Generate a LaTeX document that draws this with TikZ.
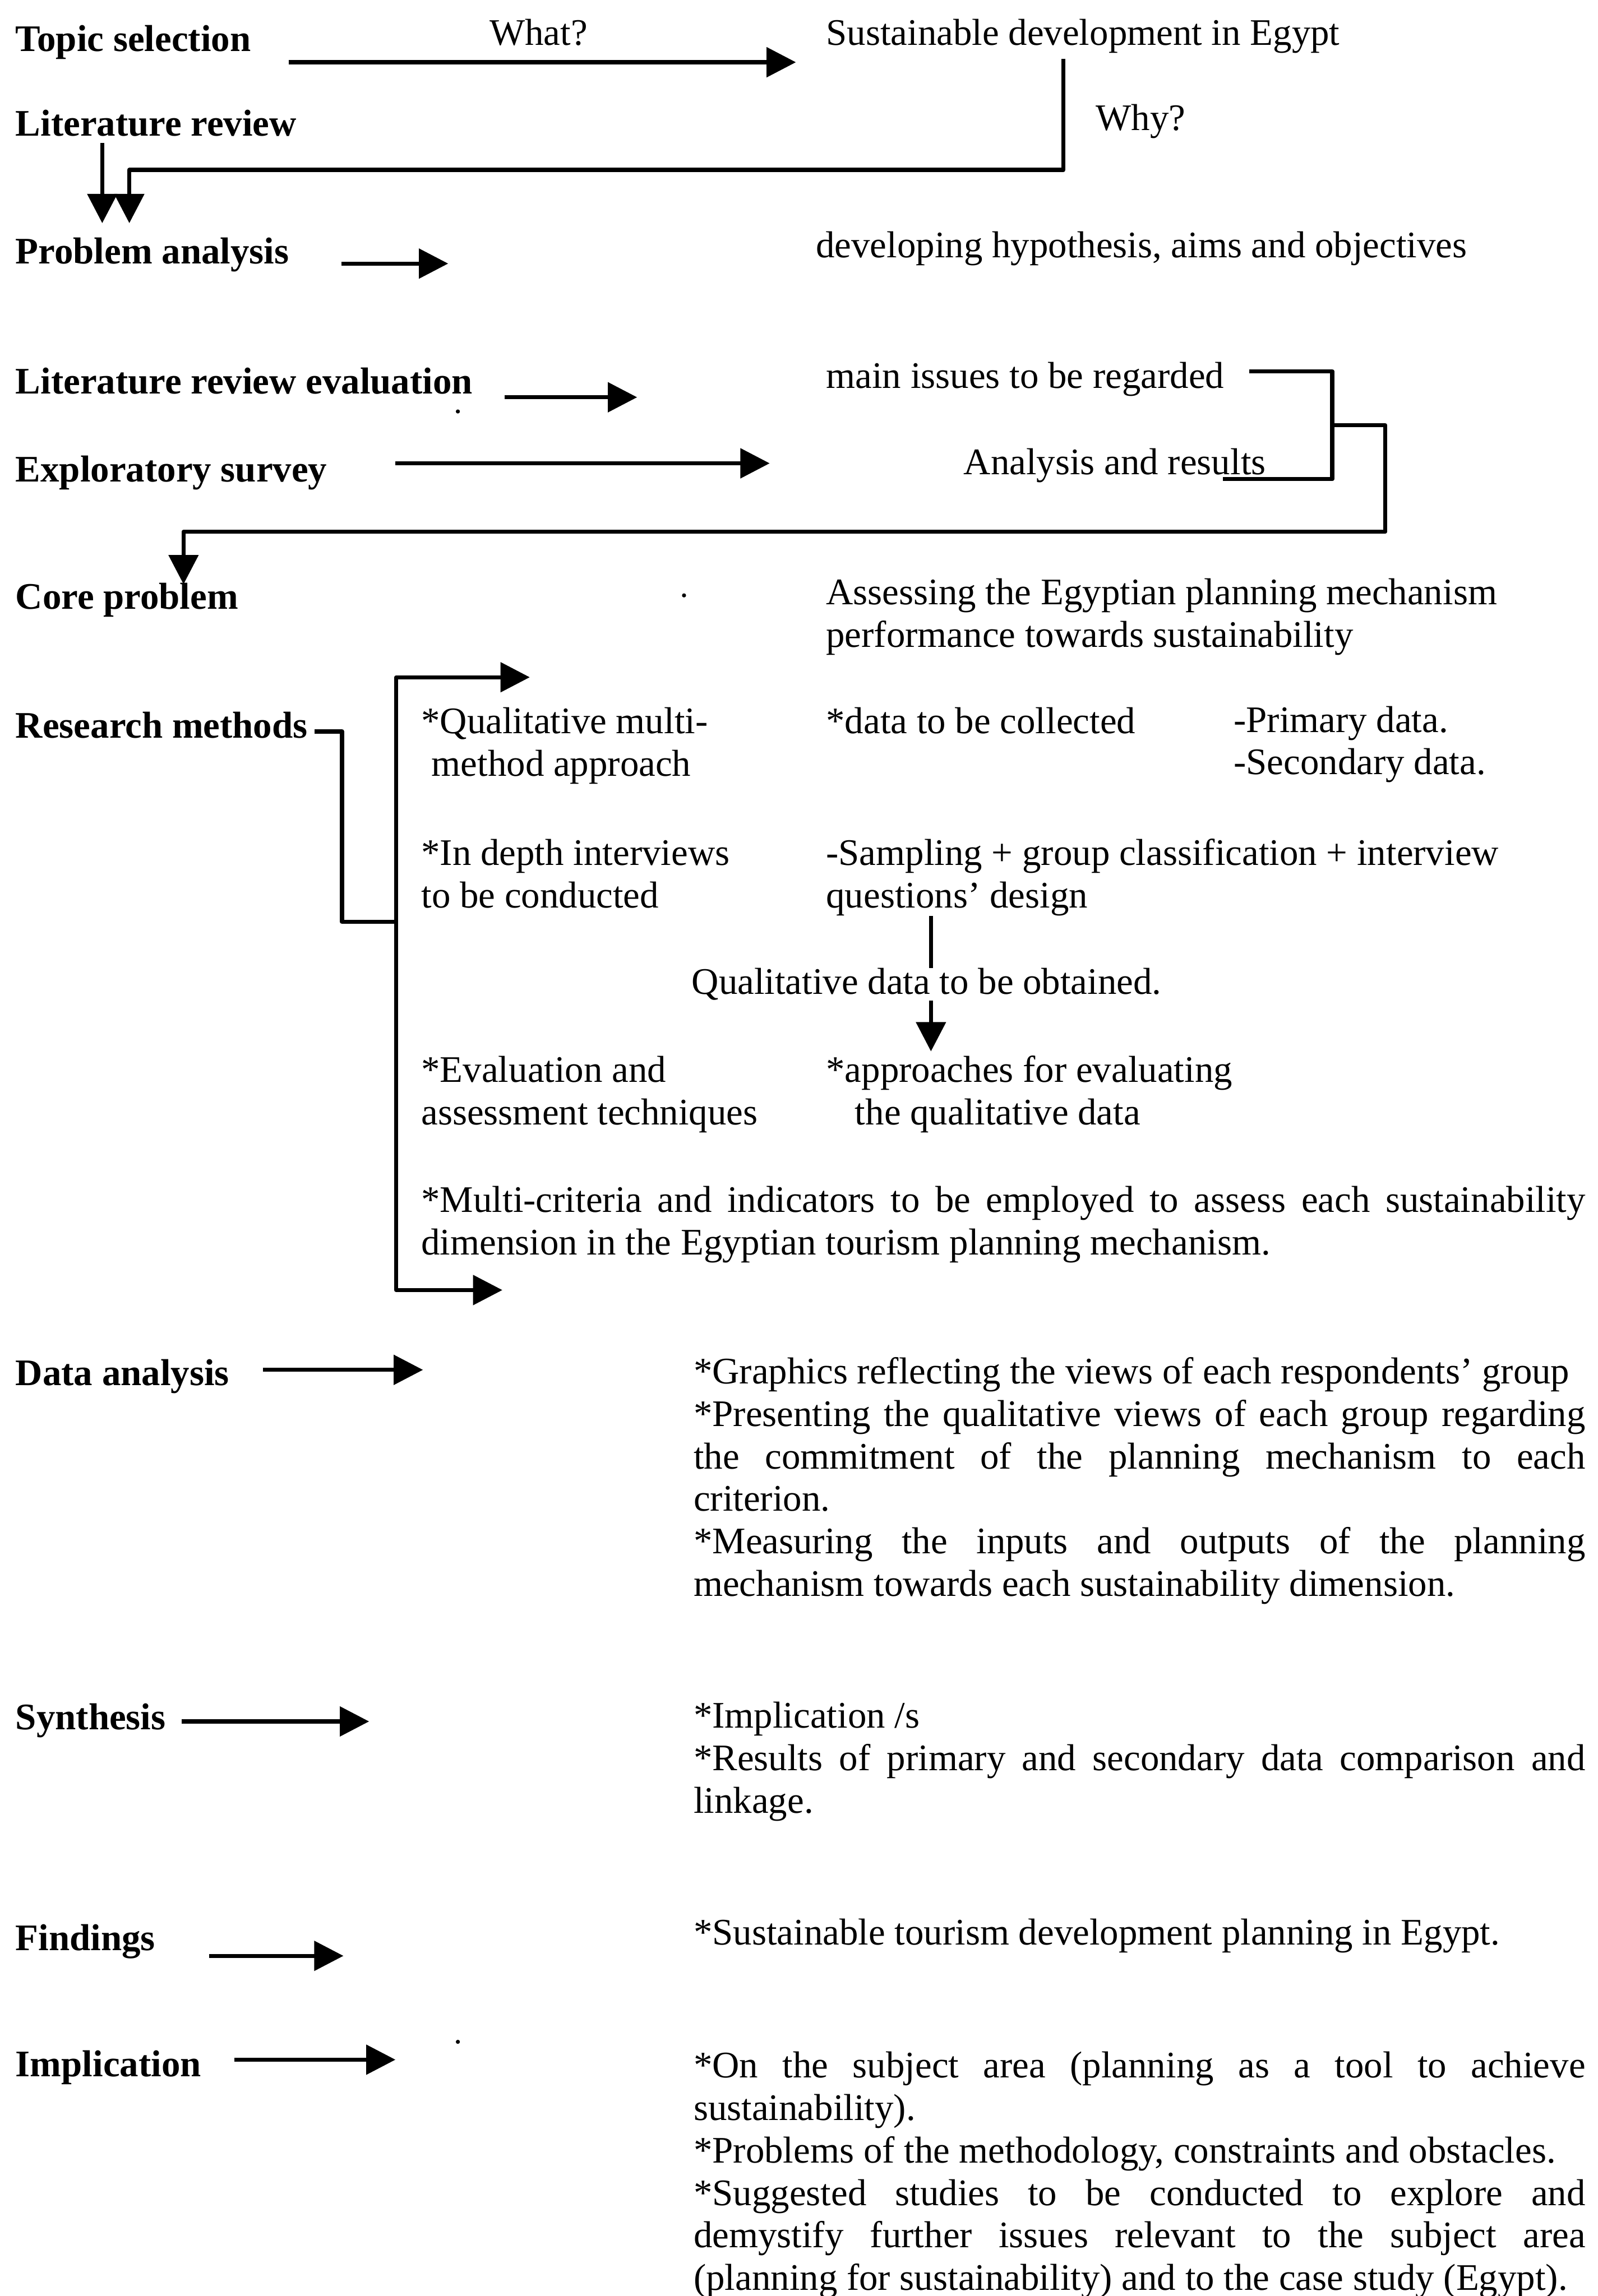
\documentclass[tikz,border=0pt]{standalone}
\usepackage{fontspec}
\setmainfont{Liberation Serif}
\usetikzlibrary{arrows.meta}
\newcommand\diagfont{\fontsize{18.21}{20.63}\selectfont}
\newcommand\jline[2]{\hbox to #1{#2}}
\tikzset{
  txt/.style={inner sep=0pt, anchor=base west, font=\diagfont, align=left},
  lbl/.style={txt, font=\diagfont\bfseries},
  ln/.style={line width=2pt, line join=round},
  arr/.style={ln, -{Triangle[length=0.5cm,width=0.5cm]}},
  arrboth/.style={ln, {Triangle[length=0.5cm,width=0.5cm]}-{Triangle[length=0.5cm,width=0.5cm]}},
  speck/.style={fill=black}
}
\begin{document}
\begin{tikzpicture}[x=0.025cm,y=-0.025cm]
\path[use as bounding box] (0,0) rectangle (1091,1568);

% ---------- left labels ----------
\node[lbl] (ts)  at (10.4,35)   {Topic selection};
\node[lbl] (lr)  at (10.4,93)   {Literature review};
\node[lbl] (pa)  at (10.4,180)  {Problem analysis};
\node[lbl] (lre) at (10.4,269)  {Literature review evaluation};
\node[lbl] (es)  at (10.4,329)  {Exploratory survey};
\node[lbl] (cp)  at (10.4,416)  {Core problem};
\node[lbl] (rm)  at (10.4,504)  {Research methods};
\node[lbl] (da)  at (10.4,946)  {Data analysis};
\node[lbl] (syn) at (10.4,1181) {Synthesis};
\node[lbl] (fi)  at (10.4,1332) {Findings};
\node[lbl] (imp) at (10.4,1418) {Implication};

% ---------- right-hand texts (multi-line nodes are placed at their last baseline) ----------
\node[txt] (what) at (334,31)    {What?};
\node[txt] (sde)  at (563.8,31)  {Sustainable development in Egypt};
\node[txt] (why)  at (748,89)    {Why?};
\node[txt] (dev)  at (556.8,176) {developing hypothesis, aims and objectives};
\node[txt] (mi)   at (563.8,265) {main issues to be regarded};
\node[txt] (ar)   at (657.7,324) {Analysis and results};
\node[txt] (ass)  at (563.8,442) {Assessing the Egyptian planning mechanism\\performance towards sustainability};

\node[txt] (qm)   at (287.4,530) {*Qualitative multi-\\\hspace*{5pt}method approach};
\node[txt] (dc)   at (563.8,501) {*data to be collected};
\node[txt] (pd)   at (842,529)   {-Primary data.\\-Secondary data.};
\node[txt] (idi)  at (287.4,620) {*In depth interviews\\to be conducted};
\node[txt] (samp) at (563.8,620) {-Sampling + group classification + interview\\questions’ design};
\node[txt] (eat)  at (287.4,768) {*Evaluation and\\assessment techniques};
\node[txt] (afe)  at (563.8,768) {*approaches for evaluating\\\hspace*{14pt}the qualitative data};
\node[txt] (mc)   at (287.4,857) {\jline{19.865cm}{*Multi-criteria and indicators to be employed to assess each sustainability}\\dimension in the Egyptian tourism planning mechanism.};

\node[txt] (dab)  at (473.3,1090) {*Graphics reflecting the views of each respondents’ group\\
\jline{15.2175cm}{*Presenting the qualitative views of each group regarding}\\
\jline{15.2175cm}{the commitment of the planning mechanism to each}\\
criterion.\\
\jline{15.2175cm}{*Measuring the inputs and outputs of the planning}\\
mechanism towards each sustainability dimension.};

\node[txt] (synb) at (473.3,1238) {*Implication /s\\
\jline{15.2175cm}{*Results of primary and secondary data comparison and}\\
linkage.};

\node[txt] (fib)  at (473.3,1328) {*Sustainable tourism development planning in Egypt.};

\node[txt] (impb) at (473.3,1564) {\jline{15.2175cm}{*On the subject area (planning as a tool to achieve}\\
sustainability).\\
*Problems of the methodology, constraints and obstacles.\\
\jline{15.2175cm}{*Suggested studies to be conducted to explore and}\\
\jline{15.2175cm}{demystify further issues relevant to the subject area}\\
(planning for sustainability) and to the case study (Egypt).};

% ---------- connector coordinates ----------
\coordinate (tsA) at (197,42.5);   \coordinate (tsB) at (543.4,42.5);
\coordinate (w1) at (726,40);      \coordinate (w2) at (726,116);
\coordinate (w3) at (88.3,116);    \coordinate (w4) at (88.3,152.4);
\coordinate (lrA) at (69.8,97.6);  \coordinate (lrB) at (69.8,152.4);
\coordinate (paA) at (233,180);    \coordinate (paB) at (306,180);
\coordinate (lreA) at (344.5,271.3); \coordinate (lreB) at (435,271.3);
\coordinate (esA) at (270,316.4);  \coordinate (esB) at (525.5,316.4);
\coordinate (b1) at (853,253.6);   \coordinate (b2) at (909.6,253.6);
\coordinate (b3) at (909.6,327.2); \coordinate (b4) at (835,327.2);
\coordinate (c1) at (909.6,290.4); \coordinate (c2) at (945.8,290.4);
\coordinate (c3) at (945.8,363.1); \coordinate (c4) at (125.3,363.1);
\coordinate (c5) at (125.3,399);
\coordinate (r1) at (214.7,499.5); \coordinate (r2) at (233.5,499.5);
\coordinate (r3) at (233.5,629.5); \coordinate (r4) at (270.5,629.5);
\coordinate (v1) at (361.7,462.5); \coordinate (v2) at (270.5,462.5);
\coordinate (v3) at (270.5,881);   \coordinate (v4) at (343,881);
\coordinate (sA) at (635.6,625.5); \coordinate (sB) at (635.6,718);
\coordinate (daA) at (179.6,935.5);  \coordinate (daB) at (288.8,935.5);
\coordinate (synA) at (124,1175.6);  \coordinate (synB) at (252,1175.6);
\coordinate (fiA) at (142.7,1335.7); \coordinate (fiB) at (234.5,1335.7);
\coordinate (impA) at (160,1406.6);  \coordinate (impB) at (270,1406.6);

% ---------- connectors ----------
\draw[arr] (tsA) -- (tsB);
\draw[arr] (w1) -- (w2) -- (w3) -- (w4);
\draw[arr] (lrA) -- (lrB);
\draw[arr] (paA) -- (paB);
\draw[arr] (lreA) -- (lreB);
\draw[arr] (esA) -- (esB);
\draw[ln]  (b1) -- (b2) -- (b3) -- (b4);
\draw[arr] (c1) -- (c2) -- (c3) -- (c4) -- (c5);
\draw[ln]  (r1) -- (r2) -- (r3) -- (r4);
\draw[arrboth] (v1) -- (v2) -- (v3) -- (v4);
\draw[arr] (sA) -- (sB);
\node[txt, fill=white] (qd) at (472,679) {Qualitative data to be obtained.};
\draw[arr] (daA) -- (daB);
\draw[arr] (synA) -- (synB);
\draw[arr] (fiA) -- (fiB);
\draw[arr] (impA) -- (impB);

% ---------- specks ----------
\fill[speck] (312.6,281) circle[radius=0.035cm];
\fill[speck] (467,406.6) circle[radius=0.035cm];
\fill[speck] (312.6,1394.4) circle[radius=0.035cm];
\end{tikzpicture}
\end{document}
